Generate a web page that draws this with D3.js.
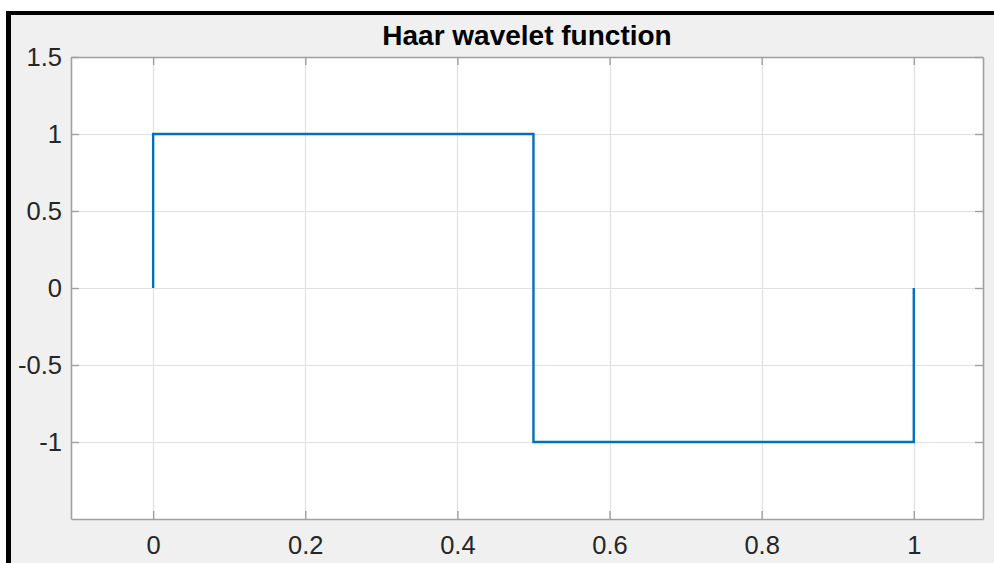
<!DOCTYPE html>
<html>
<head>
<meta charset="utf-8">
<script src="https://cdn.jsdelivr.net/npm/d3@7"></script>
<style>
  html, body { margin: 0; padding: 0; background: #ffffff; }
  svg { display: block; }
</style>
</head>
<body>
<svg id="chart" width="994" height="563"></svg>
<script>
// ---- data ----
const xValues = [0, 0, 0.5, 0.5, 1, 1];
const yValues = [0, 1, 1, -1, -1, 0];
const xTicks = [0, 0.2, 0.4, 0.6, 0.8, 1];
const yTicks = [-1, -0.5, 0, 0.5, 1, 1.5];
const xTickLabels = ["0", "0.2", "0.4", "0.6", "0.8", "1"];
const yTickLabels = ["-1", "-0.5", "0", "0.5", "1", "1.5"];
const titleText = "Haar wavelet function";

const W = 994, H = 563;
const plot = { left: 71, right: 983, top: 57, bottom: 519 };

const svg = d3.select("#chart");

// figure background + black frame
svg.append("rect").attr("x", 0).attr("y", 0).attr("width", W).attr("height", H).attr("fill", "#ffffff");
svg.append("rect").attr("x", 6).attr("y", 11).attr("width", W - 6).attr("height", H - 11).attr("fill", "#000000");
svg.append("rect").attr("x", 11).attr("y", 15).attr("width", W - 11).attr("height", H - 15).attr("fill", "#f0f0f0");

const x = d3.scaleLinear().domain([-0.108, 1.091]).range([plot.left, plot.right]);
const y = d3.scaleLinear().domain([-1.5, 1.5]).range([plot.bottom, plot.top]);

// axes area
svg.append("rect")
  .attr("x", plot.left).attr("y", plot.top)
  .attr("width", plot.right - plot.left).attr("height", plot.bottom - plot.top)
  .attr("fill", "#ffffff");

// grid
const grid = svg.append("g");
grid.selectAll("line.gx").data(xTicks).join("line")
  .attr("x1", d => Math.round(x(d)) + 0.5).attr("x2", d => Math.round(x(d)) + 0.5)
  .attr("y1", plot.top).attr("y2", plot.bottom)
  .attr("stroke", "#e1e1e1").attr("stroke-width", 1.2);
grid.selectAll("line.gy").data(yTicks).join("line")
  .attr("y1", d => Math.round(y(d)) + 0.5).attr("y2", d => Math.round(y(d)) + 0.5)
  .attr("x1", plot.left).attr("x2", plot.right)
  .attr("stroke", "#e1e1e1").attr("stroke-width", 1.2);

// data line
const line = d3.line().x((d, i) => x(xValues[i])).y((d, i) => y(yValues[i]));
svg.append("path")
  .datum(xValues)
  .attr("d", line)
  .attr("fill", "none")
  .attr("stroke", "#0072BD")
  .attr("stroke-width", 2.4)
  .attr("stroke-linejoin", "miter");

// axes with inward ticks
const axisColor = "#a0a0a0";
const tickLen = 8;
function styleAxis(g) {
  g.select(".domain").attr("stroke", axisColor).attr("stroke-width", 1.6);
  g.selectAll(".tick line").attr("stroke", axisColor).attr("stroke-width", 1.4);
}
const fontFam = "Arial, 'Liberation Sans', Helvetica, sans-serif";

const xAxisB = d3.axisBottom(x).tickValues(xTicks)
  .tickFormat((d, i) => xTickLabels[i]).tickSizeInner(-tickLen).tickSizeOuter(0).tickPadding(17);
const gxb = svg.append("g").attr("transform", `translate(0,${plot.bottom})`).call(xAxisB);
styleAxis(gxb);
gxb.selectAll("text").attr("font-family", fontFam).attr("font-size", 25.5).attr("fill", "#262626");

const xAxisT = d3.axisTop(x).tickValues(xTicks).tickFormat("").tickSizeInner(-tickLen).tickSizeOuter(0);
const gxt = svg.append("g").attr("transform", `translate(0,${plot.top})`).call(xAxisT);
styleAxis(gxt);

const yAxisL = d3.axisLeft(y).tickValues(yTicks)
  .tickFormat((d, i) => yTickLabels[i]).tickSizeInner(-tickLen).tickSizeOuter(0).tickPadding(9);
const gyl = svg.append("g").attr("transform", `translate(${plot.left},0)`).call(yAxisL);
styleAxis(gyl);
gyl.selectAll("text").attr("font-family", fontFam).attr("font-size", 25.5).attr("fill", "#262626");

const yAxisR = d3.axisRight(y).tickValues(yTicks).tickFormat("").tickSizeInner(-tickLen).tickSizeOuter(0);
const gyr = svg.append("g").attr("transform", `translate(${plot.right},0)`).call(yAxisR);
styleAxis(gyr);

// title
svg.append("text")
  .attr("x", (plot.left + plot.right) / 2)
  .attr("y", 45)
  .attr("text-anchor", "middle")
  .attr("font-family", fontFam)
  .attr("font-weight", "bold")
  .attr("font-size", 28)
  .attr("fill", "#000000")
  .text(titleText);
</script>
</body>
</html>
